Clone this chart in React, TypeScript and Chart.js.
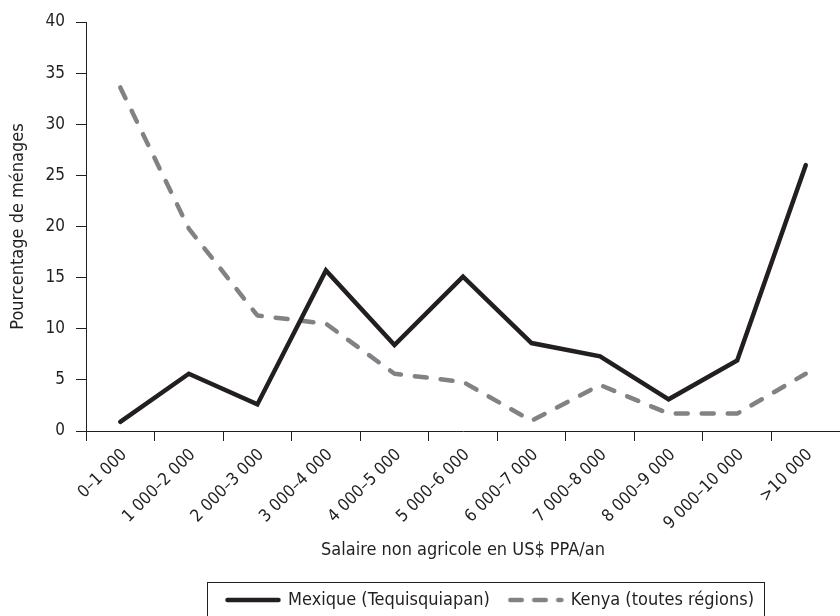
import React, { useEffect, useRef } from "react";
import { Chart, registerables } from "chart.js";

Chart.register(...registerables);

const categories = [
  "0–1 000",
  "1 000–2 000",
  "2 000–3 000",
  "3 000–4 000",
  "4 000–5 000",
  "5 000–6 000",
  "6 000–7 000",
  "7 000–8 000",
  "8 000–9 000",
  "9 000–10 000",
  ">10 000",
];
const mexique = [0.9, 5.6, 2.6, 15.7, 8.4, 15.1, 8.6, 7.3, 3.1, 6.9, 26.0];
const kenya = [33.6, 19.8, 11.3, 10.5, 5.6, 4.8, 1.0, 4.5, 1.7, 1.7, 5.6];
const seriesNames = ["Mexique (Tequisquiapan)", "Kenya (toutes régions)"];
const yTicks = [0, 5, 10, 15, 20, 25, 30, 35, 40];
const xTitle = "Salaire non agricole en US$ PPA/an";
const yTitle = "Pourcentage de ménages";

const FONT = "'DejaVu Sans Condensed', 'DejaVu Sans', sans-serif";
const INK = "#231f20";
const GREY = "#808285";
const TICK_SIZE = 17;
const TEXT_SIZE = 18;
const LEGEND_PAD = 20;

function makeSample(color: string, dash: number[]) {
  const c = document.createElement("canvas");
  c.width = 56;
  c.height = 8;
  const g = c.getContext("2d");
  if (g) {
    g.strokeStyle = color;
    g.lineWidth = 4.5;
    g.lineCap = "round";
    g.setLineDash(dash);
    g.beginPath();
    g.moveTo(2.5, 4);
    g.lineTo(53.5, 4);
    g.stroke();
  }
  return c;
}

const legendBoxPlugin = {
  id: "legendBox",
  afterLayout(chart: any) {
    const lg = chart.legend;
    if (!lg || !lg.lineWidths) return;
    const p = lg.options.labels.padding;
    const lw = lg.lineWidths[0];
    const start = (lg.left + p + lg.right - lw) / 2;
    const shift = 227 - start;
    lg.left += shift;
    lg.right += shift;
    const h = lg.height;
    lg.top = 600 - p - TEXT_SIZE / 2;
    lg.bottom = lg.top + h;
  },
  afterDraw(chart: any) {
    const lg = chart.legend;
    if (!lg || !lg.legendHitBoxes || !lg.legendHitBoxes.length) return;
    const hb = lg.legendHitBoxes;
    const first = hb[0];
    const last = hb[hb.length - 1];
    const ctx = chart.ctx;
    const left = Math.round(first.left - 20) + 0.5;
    const right = Math.round(last.left + last.width + 10) + 0.5;
    const top = Math.round(first.top + TEXT_SIZE / 2 - 18) + 0.5;
    ctx.save();
    ctx.strokeStyle = INK;
    ctx.lineWidth = 1;
    ctx.setLineDash([]);
    ctx.strokeRect(left, top, right - left, 60);
    ctx.restore();
  },
};

export default function App() {
  const ref = useRef<HTMLCanvasElement | null>(null);
  useEffect(() => {
    if (!ref.current) return;
    const samples = [makeSample(INK, []), makeSample(GREY, [11.5, 12.5])];
    const chart = new Chart(ref.current, {
      type: "line",
      data: {
        labels: categories,
        datasets: [
          {
            label: seriesNames[0],
            data: mexique,
            borderColor: INK,
            backgroundColor: INK,
            borderWidth: 4.5,
            borderCapStyle: "round",
            borderJoinStyle: "miter",
            pointRadius: 0,
            tension: 0,
            fill: false,
          },
          {
            label: seriesNames[1],
            data: kenya,
            borderColor: GREY,
            backgroundColor: GREY,
            borderWidth: 4.5,
            borderDash: [12, 14],
            borderCapStyle: "round",
            borderJoinStyle: "round",
            pointRadius: 0,
            tension: 0,
            fill: false,
          },
        ],
      },
      options: {
        animation: false,
        responsive: false,
        maintainAspectRatio: false,
        layout: { padding: { top: 22, left: 0, right: 0, bottom: 0 } },
        plugins: {
          tooltip: { enabled: false },
          legend: {
            display: true,
            position: "bottom",
            labels: {
              color: INK,
              font: { family: FONT, size: TEXT_SIZE },
              usePointStyle: true,
              pointStyleWidth: 52,
              padding: LEGEND_PAD,
              generateLabels(ch: any) {
                const items = Chart.defaults.plugins.legend.labels.generateLabels(ch);
                items.forEach((it: any, i: number) => {
                  it.pointStyle = samples[i];
                  it.lineDash = [];
                });
                return items;
              },
            },
          },
        },
        scales: {
          x: {
            type: "category",
            offset: true,
            grid: {
              display: true,
              offset: true,
              drawOnChartArea: false,
              drawTicks: true,
              tickLength: 10,
              color: INK,
              lineWidth: 1,
            },
            border: { display: true, color: INK, width: 1 },
            ticks: {
              color: INK,
              font: { family: FONT, size: TICK_SIZE },
              maxRotation: 45,
              minRotation: 45,
              autoSkip: false,
              padding: 4,
              labelOffset: 4,
            },
            title: {
              display: true,
              text: xTitle,
              color: INK,
              font: { family: FONT, size: TEXT_SIZE },
              padding: { top: 0, bottom: 7 },
            },
            afterFit(scale: any) {
              const lh = scale.chart && scale.chart.legend ? scale.chart.legend.height : 48;
              scale.height = 616 - 431 - lh;
            },
          },
          y: {
            min: 0,
            max: 40,
            afterBuildTicks(scale: any) {
              scale.ticks = yTicks.map((v) => ({ value: v }));
            },
            grid: {
              display: true,
              drawOnChartArea: false,
              drawTicks: true,
              tickLength: 10,
              color: INK,
              lineWidth: 1,
            },
            border: { display: true, color: INK, width: 1 },
            ticks: {
              color: INK,
              font: { family: FONT, size: TICK_SIZE },
              padding: 11,
            },
            title: {
              display: true,
              text: yTitle,
              color: INK,
              font: { family: FONT, size: TEXT_SIZE },
              padding: { top: 8, bottom: 0 },
            },
            afterFit(scale: any) {
              scale.width = 86;
            },
          },
        },
      },
      plugins: [legendBoxPlugin],
    });
    return () => chart.destroy();
  }, []);
  return (
    <div style={{ position: "fixed", left: 0, top: 0, width: 840, height: 616, background: "#fff" }}>
      <canvas ref={ref} width={840} height={616} style={{ display: "block" }} />
    </div>
  );
}
